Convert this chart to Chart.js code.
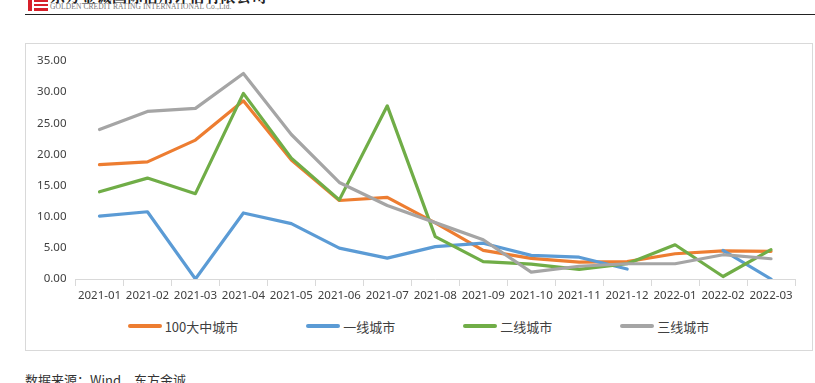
<!DOCTYPE html>
<html>
<head>
<meta charset="utf-8">
<script src="https://cdn.jsdelivr.net/npm/chart.js@4/dist/chart.umd.min.js"></script>
<style>
    html, body { margin: 0; padding: 0; background: #fff; width: 815px; height: 383px; overflow: hidden; position: relative; }
    .logo div { position: absolute; background: #d7202a; }
    .cnName { position: absolute; left: 50px; top: -15px; font: bold 15px "Noto Serif CJK SC", "Noto Sans CJK SC", serif; color: #222; letter-spacing: 0.5px; white-space: nowrap; }
    .enName { position: absolute; left: 50px; top: 2px; font: 7.5px "Liberation Serif", serif; color: #777; white-space: nowrap; letter-spacing: 0.1px; }
    .headLine { position: absolute; left: 25px; top: 14px; width: 790px; height: 1px; background: #222; }
    .box { position: absolute; left: 25px; top: 43px; width: 786px; height: 306px; border: 1px solid #d9d9d9; }
    #myChart { position: absolute; left: 25px; top: 43px; }
    .legend { position: absolute; left: 25px; top: 318px; width: 787px; height: 16px; display: flex; justify-content: center; gap: 68px; font: 13px "Noto Sans CJK SC", sans-serif; color: #404040; }
    .legendItem { display: flex; align-items: center; }
    .legendLine { width: 34px; height: 4px; border-radius: 2px; margin-right: 3px; }
    .source { position: absolute; left: 25px; top: 370px; font: 13px "Noto Sans CJK SC", sans-serif; color: #333; white-space: nowrap; }
</style>
</head>
<body>
<div class="logo">
    <div style="left:28px;top:0;width:4px;height:11px"></div>
    <div style="left:34px;top:0;width:14px;height:2px"></div>
    <div style="left:34px;top:4px;width:14px;height:2px"></div>
    <div style="left:34px;top:8px;width:14px;height:3px"></div>
</div>
<div class="cnName">东方金诚国际信用评估有限公司</div>
<div class="enName">GOLDEN CREDIT RATING INTERNATIONAL Co.,Ltd.</div>
<div class="headLine"></div>
<div class="box"></div>
<canvas id="myChart" width="787" height="266"></canvas>
<div class="legend" id="legend"></div>
<div class="source">数据来源：Wind，东方金诚</div>

<script>
const months = ["2021-01", "2021-02", "2021-03", "2021-04", "2021-05", "2021-06", "2021-07", "2021-08",
    "2021-09", "2021-10", "2021-11", "2021-12", "2022-01", "2022-02", "2022-03"];

const seriesNames = ["100大中城市", "一线城市", "二线城市", "三线城市"];
const seriesColors = ["#ed7d31", "#5b9bd5", "#70ad47", "#a5a5a5"];

const top100 = [18.35, 18.8, 22.3, 28.6, 19.1, 12.6, 13.1, 9.0, 4.6, 3.3, 2.7, 2.8, 4.05, 4.5, 4.45];
const tier1 = [10.1, 10.8, 0, 10.6, 8.9, 4.95, 3.35, 5.2, 5.75, 3.8, 3.5, 1.6, null, 4.6, 0];
const tier2 = [14.0, 16.2, 13.7, 29.8, 19.4, 12.7, 27.8, 6.8, 2.8, 2.4, 1.55, 2.45, 5.5, 0.4, 4.7];
const tier3 = [24.0, 26.9, 27.4, 33.0, 23.2, 15.5, 11.8, 9.05, 6.3, 1.1, 2.05, 2.45, 2.45, 3.9, 3.25];

const yTicks = [0, 5, 10, 15, 20, 25, 30, 35];

const allSeries = [top100, tier1, tier2, tier3];
const tickFont = { family: "'Noto Sans', sans-serif", size: 11.5 };

// excel draws later series on top
const datasets = allSeries.map((values, i) => ({
    label: seriesNames[i],
    data: values,
    borderColor: seriesColors[i],
    backgroundColor: seriesColors[i],
    borderWidth: 3.2,
    borderCapStyle: "round",
    borderJoinStyle: "round",
    pointRadius: 0,
    tension: 0,
    spanGaps: false,
    order: allSeries.length - i
}));

new Chart("myChart", {
    type: "line",
    data: { labels: months, datasets: datasets },
    options: {
        responsive: false,
        animation: false,
        devicePixelRatio: 1,
        layout: { padding: { left: 0, right: 17, top: 18, bottom: 0 } },
        plugins: { legend: { display: false }, tooltip: { enabled: false } },
        scales: {
            x: {
                offset: true,
                grid: { offset: true, drawOnChartArea: false, drawTicks: true, tickLength: 7, color: "#d9d9d9" },
                border: { display: true, color: "#d9d9d9" },
                ticks: { color: "#404040", font: tickFont, maxRotation: 0, autoSkip: false, padding: 3 },
                afterFit: (scale) => { scale.height = 30; }
            },
            y: {
                min: yTicks[0],
                max: yTicks[yTicks.length - 1],
                grid: { display: false, drawTicks: false },
                border: { display: false },
                afterBuildTicks: (scale) => { scale.ticks = yTicks.map(v => ({ value: v })); },
                ticks: {
                    color: "#404040",
                    font: tickFont,
                    padding: 9,
                    callback: (v) => Number(v).toFixed(2)
                },
                afterFit: (scale) => { scale.width = 50.5; }
            }
        }
    }
});

const legend = document.getElementById("legend");
seriesNames.forEach((name, i) => {
    const item = document.createElement("div");
    item.className = "legendItem";
    item.innerHTML = `<span class="legendLine" style="background:${seriesColors[i]}"></span><span>${name}</span>`;
    legend.appendChild(item);
});
</script>
</body>
</html>
